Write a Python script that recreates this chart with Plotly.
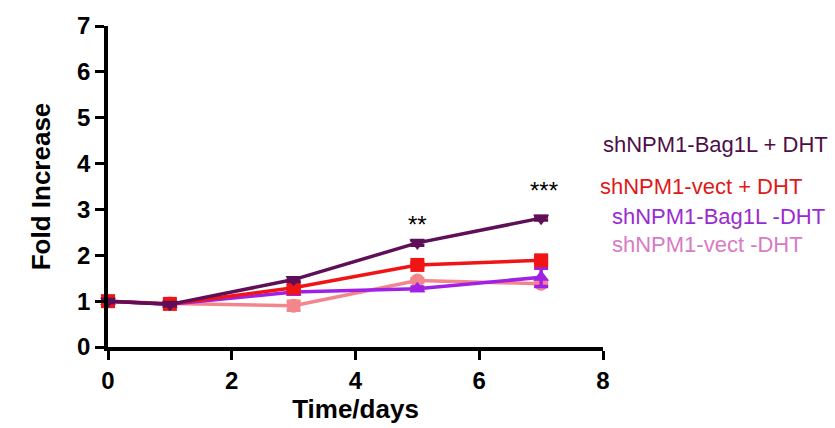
import plotly.graph_objects as go

# Time points (days) and mean fold increase per group
days = [0, 1, 3, 5, 7]
bag1l_dht = [1.00, 0.93, 1.47, 2.27, 2.81]
vect_dht = [1.00, 0.94, 1.29, 1.79, 1.89]
bag1l_nodht = [1.00, 0.93, 1.20, 1.27, 1.52]
vect_nodht = [1.00, 0.95, 0.90, 1.45, 1.38]

# Standard errors
bag1l_dht_err = [0.03, 0.03, 0.04, 0.05, 0.04]
vect_dht_err = [0.03, 0.03, 0.04, 0.04, 0.05]
bag1l_nodht_err = [0.03, 0.03, 0.05, 0.04, 0.20]
vect_nodht_err = [0.03, 0.03, 0.10, 0.04, 0.05]

series = [
    ("shNPM1-vect -DHT", vect_nodht, vect_nodht_err, "#F3868C", "#D77BC6", "circle"),
    ("shNPM1-Bag1L -DHT", bag1l_nodht, bag1l_nodht_err, "#A020E6", "#9B2BD0", "triangle-up"),
    ("shNPM1-vect + DHT", vect_dht, vect_dht_err, "#F01414", "#E01919", "square"),
    ("shNPM1-Bag1L + DHT", bag1l_dht, bag1l_dht_err, "#5E0F58", "#4E0F48", "triangle-down"),
]

FONT = "Liberation Sans, Arial, sans-serif"

fig = go.Figure()
for name, ys, err, color, _, sym in series:
    fig.add_trace(go.Scatter(
        x=days, y=ys, name=name, mode="lines+markers",
        line=dict(color=color, width=3.5),
        marker=dict(symbol=sym, size=14, color=color),
        error_y=dict(type="data", array=err, color=color, thickness=3.5, width=7),
        cliponaxis=False, showlegend=False,
    ))

# Group labels to the right of the plot
label_pos = [("shNPM1-Bag1L + DHT", 140, 601), ("shNPM1-vect + DHT", 184, 598),
             ("shNPM1-Bag1L -DHT", 214, 610), ("shNPM1-vect -DHT", 243, 610)]
text_colors = {s[0]: s[4] for s in series}
for name, ypix, xpix in label_pos:
    fig.add_annotation(
        text=name, xref="paper", yref="paper",
        x=(xpix - 108) / (603 - 108), y=(348 - ypix) / (348 - 19),
        xanchor="left", yanchor="middle", showarrow=False,
        font=dict(family=FONT, size=22, color=text_colors[name]),
    )

# Significance markers
sig_x = [5, 7.05]
sig_y = [2.68, 3.42]
sig_text = ["**", "***"]
for sx, sy, st in zip(sig_x, sig_y, sig_text):
    fig.add_annotation(text=st, x=sx, y=sy, showarrow=False,
                       font=dict(family=FONT, size=24, color="black"))

axis_font = dict(family=FONT, size=24, color="black", weight="bold")
title_font = dict(family=FONT, size=26, color="black", weight="bold")

fig.update_layout(
    width=835, height=428,
    margin=dict(l=108, r=232, t=19, b=80),
    plot_bgcolor="white", paper_bgcolor="white",
    xaxis=dict(range=[0, 8], tickvals=[0, 2, 4, 6, 8], showgrid=False,
               zeroline=False, showline=True, linecolor="black", linewidth=3.5,
               ticks="outside", ticklen=9, tickwidth=3, tickcolor="black",
               tickfont=axis_font,
               title=dict(text="Time/days", font=title_font, standoff=4)),
    yaxis=dict(range=[0, 7], tickvals=list(range(8)), showgrid=False,
               zeroline=False, showline=True, linecolor="black", linewidth=3.5,
               ticks="outside", ticklen=9, tickwidth=3, tickcolor="black",
               tickfont=axis_font,
               title=dict(text="Fold Increase", font=title_font, standoff=20)),
)

fig.write_html("out.html")
